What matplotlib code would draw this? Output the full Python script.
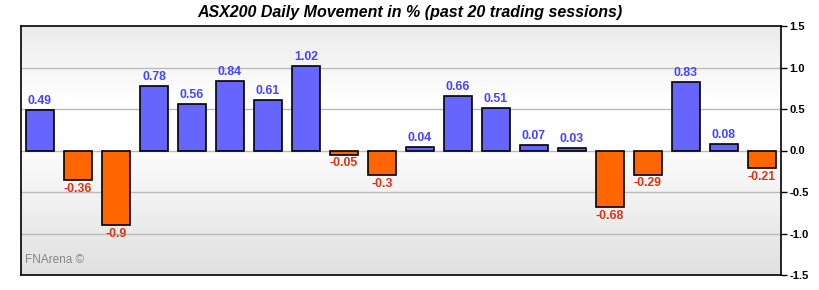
import matplotlib
matplotlib.use("Agg")
import matplotlib.pyplot as plt
import numpy as np
from matplotlib.colors import LinearSegmentedColormap

title = "ASX200 Daily Movement in % (past 20 trading sessions)"
values = [0.49, -0.36, -0.9, 0.78, 0.56, 0.84, 0.61, 1.02, -0.05, -0.3,
          0.04, 0.66, 0.51, 0.07, 0.03, -0.68, -0.29, 0.83, 0.08, -0.21]
yticks = [-1.5, -1.0, -0.5, 0.0, 0.5, 1.0, 1.5]

plt.rcParams['font.family'] = ['Liberation Sans', 'DejaVu Sans']

fig = plt.figure(figsize=(8.2, 2.9), dpi=100)
ax = fig.add_axes([21/820, 15/290, 760/820, 249/290])

x = np.arange(len(values))
colors = ['#6666ff' if v >= 0 else '#ff6600' for v in values]
ax.bar(x, values, width=0.73, color=colors, edgecolor='black', linewidth=1.2, zorder=3)

ax.set_xlim(-0.5, len(values) - 0.5)
ax.set_ylim(-1.5, 1.5)

# background gradient
cmap = LinearSegmentedColormap.from_list('bg', [(0.0, '#e0e0e0'), (0.55, '#ffffff'), (0.7, '#ffffff'), (1.0, '#ebebeb')])
grad = np.linspace(0, 1, 256).reshape(-1, 1)
ax.imshow(grad, extent=[-0.5, len(values) - 0.5, -1.5, 1.5], origin='lower', aspect='auto', cmap=cmap, zorder=0)

for yv in yticks[1:-1]:
    ax.axhline(yv, color='#bbbbbb', linewidth=1, zorder=1)

for xi, v in zip(x, values):
    lbl = f"{v:g}"
    if v >= 0:
        ax.annotate(lbl, (xi, v), xytext=(0, 2), textcoords='offset points', ha='center', va='bottom',
                    color='#4444ff', fontsize=8.8, fontweight='bold', zorder=4)
    else:
        ax.annotate(lbl, (xi, v), xytext=(0, -2), textcoords='offset points', ha='center', va='top',
                    color='#dd3311', fontsize=8.8, fontweight='bold', zorder=4)

ax.yaxis.tick_right()
ax.set_yticks(yticks)
ax.set_yticklabels([f"{t:.1f}" for t in yticks], fontsize=8, fontweight='bold')
ax.tick_params(axis='y', direction='out', length=4, width=1, pad=2)
ax.set_xticks([])
for s in ax.spines.values():
    s.set_linewidth(1.2)
    s.set_color('black')

ax.text(0.005, 0.06, "FNArena ©", transform=ax.transAxes, color='#888888', fontsize=8.5, ha='left', va='center', zorder=5)

fig.text(0.5, 1 - 12/290, title, ha='center', va='center', fontsize=11.5,
         fontweight='bold', fontstyle='italic')

fig.savefig('out.png', dpi=100)
